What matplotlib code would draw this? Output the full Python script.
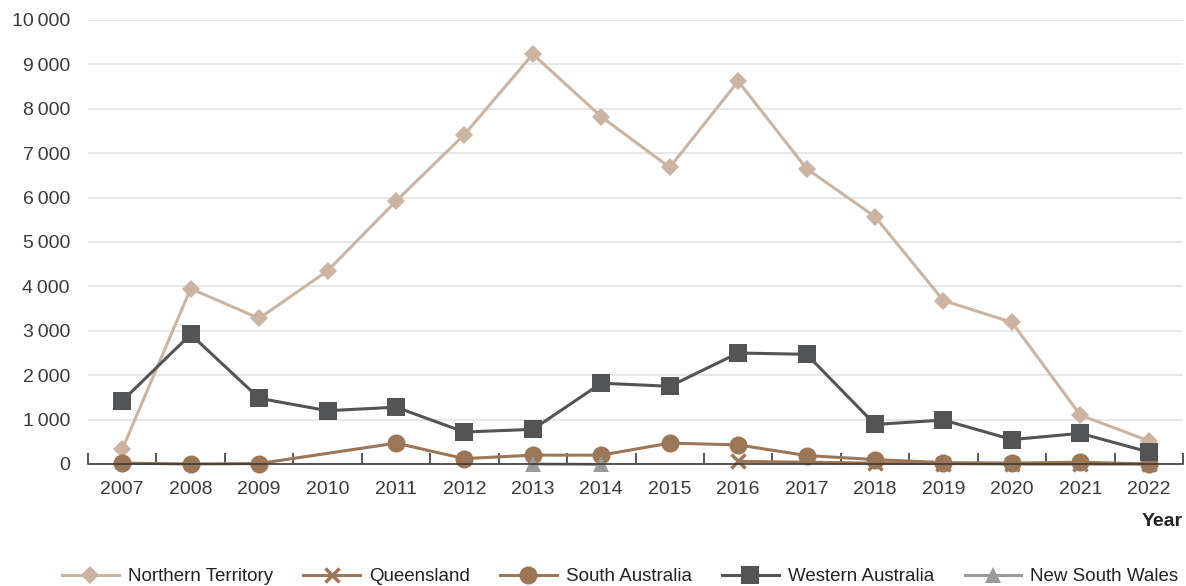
import numpy as np
import matplotlib.pyplot as plt
from matplotlib.ticker import FuncFormatter

plt.rcParams['font.family'] = ['Liberation Sans', 'DejaVu Sans']

years = list(range(2007, 2023))
nan = np.nan
nt = [330, 3950, 3280, 4350, 5920, 7420, 9230, 7820, 6680, 8620, 6650, 5570, 3680, 3190, 1100, 520]
qld = [nan, nan, nan, nan, nan, nan, nan, nan, nan, 60, nan, 20, 10, 0, 0, 0]
sa = [20, 0, 10, nan, 470, 120, 200, 200, 470, 430, 190, 100, 30, 20, 40, 0]
wa = [1420, 2920, 1480, 1200, 1280, 720, 780, 1820, 1750, 2500, 2470, 890, 990, 550, 690, 270]
nsw = [nan, nan, nan, nan, nan, nan, 0, -10, nan, nan, nan, nan, nan, nan, nan, nan]

series = [
    ('Northern Territory', nt, '#cbb5a2', 'D', 9.5),
    ('Queensland', qld, '#9b7757', 'x', 10),
    ('South Australia', sa, '#9b7757', 'o', 13),
    ('Western Australia', wa, '#535456', 's', 13),
    ('New South Wales', nsw, '#9a9a9d', '^', 11),
]

fig = plt.figure(figsize=(11.86, 5.86), dpi=100)
ax = fig.add_axes([0.0742, 0.2082, 0.9233, 0.7577])

x = np.arange(len(years))
for name, vals, col, mk, ms in series:
    v = np.array(vals, dtype=float)
    ok = ~np.isnan(v)
    ax.plot(x[ok], v[ok], color=col, lw=2.2, marker=mk, markersize=ms,
            markeredgewidth=2.5 if mk == 'x' else 0, label=name, clip_on=False)

ax.set_xlim(-0.5, len(years) - 0.5)
ax.set_ylim(0, 10000)
ax.set_yticks(range(0, 10001, 1000))
ax.yaxis.set_major_formatter(FuncFormatter(lambda v, p: f'{int(v):,}'.replace(',', '\u2009')))
ax.set_xticks(x)
ax.set_xticklabels([str(y) for y in years])
ax.set_xticks(np.arange(-0.5, len(years)), minor=True)

ax.grid(axis='y', color='#e3e3e3', lw=1.2)
ax.set_axisbelow(True)
for s in ['top', 'right', 'left']:
    ax.spines[s].set_visible(False)
ax.spines['bottom'].set_color('#3a3a3a')
ax.spines['bottom'].set_linewidth(1.2)

ax.tick_params(axis='y', length=0, labelsize=14, labelcolor='#3a3a3a', pad=13)
ax.tick_params(axis='x', which='major', length=0, labelsize=14, labelcolor='#3a3a3a', pad=12)
ax.tick_params(axis='x', which='minor', direction='in', length=8, width=1.2, color='#3a3a3a')

fig.text(0.997, 0.11, 'Year', ha='right', va='center', fontsize=14, fontweight='bold', color='#222222')

fig.legend(loc='center', bbox_to_anchor=(0.523, 0.016), ncol=5, frameon=False,
           fontsize=13.5, handlelength=3.0, columnspacing=1.62, handletextpad=0.5,
           labelcolor='#222222')

fig.savefig('out.png', dpi=100)
